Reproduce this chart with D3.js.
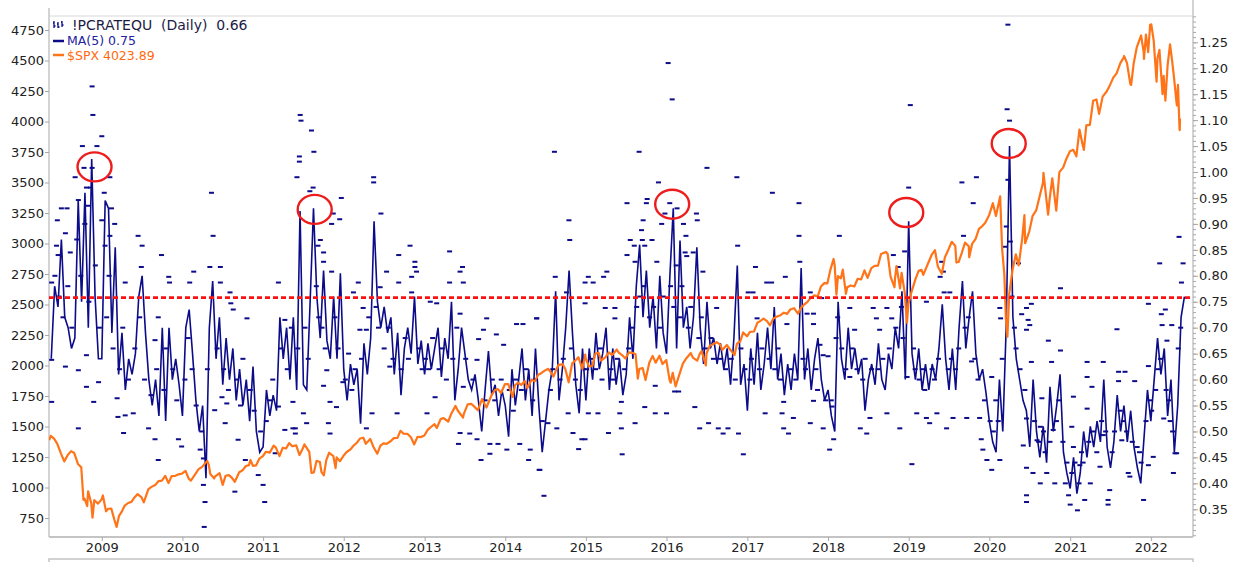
<!DOCTYPE html>
<html lang="en">
<head>
<meta charset="utf-8">
<title>!PCRATEQU (Daily) vs $SPX</title>
<script src="https://d3js.org/d3.v7.min.js"></script>
<style>
  body { margin: 0; background: #fff; }
  svg text { font-family: "DejaVu Sans", Verdana, sans-serif; }
</style>
</head>
<body>
<svg id="chart" width="1236" height="562"></svg>
<script>
// ---- data ----
// equity put/call ratio, 5-day moving average, sampled twice a month from mid-May 2008
var ma5Start = 2008 + 9 / 24;
var ma5Step = 1 / 24;
var ma5 = [
  0.64, 0.78, 0.74, 0.87, 0.72, 0.70, 0.66, 0.68, 0.945, 0.75, 0.96, 0.70, 1.025, 0.76, 0.64,
  0.64, 0.945, 0.93, 0.69, 0.855, 0.61, 0.69, 0.58, 0.64, 0.61, 0.65, 0.76, 0.80, 0.69, 0.60, 0.55, 0.60, 0.53, 0.70, 0.52, 0.70, 0.60, 0.64, 0.59,
  0.53, 0.70, 0.735, 0.65, 0.56, 0.50, 0.55, 0.41, 0.70, 0.79, 0.64, 0.72, 0.59, 0.68, 0.60, 0.66, 0.56, 0.62, 0.55, 0.60, 0.52, 0.625, 0.50, 0.46,
  0.47, 0.58, 0.53, 0.57, 0.54, 0.72, 0.64, 0.70, 0.60, 0.72, 0.58, 0.925, 0.59, 0.58, 0.75, 0.93, 0.76, 0.68, 0.81, 0.675, 0.64, 0.76, 0.64, 0.805,
  0.62, 0.56, 0.63, 0.59, 0.62, 0.515, 0.67, 0.61, 0.68, 0.905, 0.75, 0.70, 0.74, 0.69, 0.72, 0.61, 0.69, 0.57, 0.66, 0.70, 0.65, 0.76, 0.63, 0.675,
  0.61, 0.67, 0.62, 0.66, 0.70, 0.605, 0.68, 0.64, 0.75, 0.56, 0.62, 0.70, 0.65, 0.60, 0.58, 0.61, 0.56, 0.50, 0.58, 0.655, 0.57, 0.59, 0.53, 0.58,
  0.55, 0.49, 0.62, 0.55, 0.60, 0.66, 0.56, 0.62, 0.53, 0.66, 0.55, 0.46, 0.52, 0.58, 0.62, 0.77, 0.56, 0.62, 0.70, 0.81, 0.69, 0.59, 0.535, 0.66,
  0.56, 0.66, 0.60, 0.69, 0.62, 0.65, 0.70, 0.58, 0.66, 0.59, 0.64, 0.57, 0.61, 0.72, 0.64, 0.78, 0.86, 0.72, 0.81, 0.70, 0.76, 0.66, 0.80, 0.69,
  0.65, 0.80, 0.93, 0.66, 0.868, 0.70, 0.74, 0.66, 0.72, 0.855, 0.70, 0.63, 0.75, 0.66, 0.68, 0.63, 0.67, 0.62, 0.66, 0.59, 0.68, 0.82, 0.59, 0.63,
  0.54, 0.66, 0.59, 0.69, 0.58, 0.63, 0.70, 0.62, 0.74, 0.60, 0.65, 0.57, 0.63, 0.58, 0.65, 0.60, 0.815, 0.60, 0.66, 0.58, 0.64, 0.68, 0.60, 0.56,
  0.58, 0.53, 0.50, 0.75, 0.64, 0.60, 0.70, 0.62, 0.66, 0.61, 0.64, 0.54, 0.60, 0.63, 0.59, 0.67, 0.60, 0.58, 0.65, 0.62, 0.70, 0.66, 0.77, 0.60,
  0.905, 0.65, 0.60, 0.66, 0.58, 0.63, 0.58, 0.63, 0.60, 0.66, 0.745, 0.64, 0.58, 0.66, 0.58, 0.70, 0.79, 0.66, 0.72, 0.77, 0.65, 0.60, 0.62, 0.575,
  0.52, 0.48, 0.46, 0.60, 0.50, 0.70, 1.05, 0.72, 0.64, 0.60, 0.56, 0.54, 0.47, 0.60, 0.50, 0.45, 0.51, 0.44, 0.586, 0.50, 0.55, 0.61, 0.46, 0.42,
  0.39, 0.45, 0.38, 0.42, 0.50, 0.45, 0.51, 0.47, 0.52, 0.48, 0.60, 0.47, 0.43, 0.48, 0.57, 0.50, 0.55, 0.48, 0.54, 0.47, 0.43, 0.40, 0.49, 0.58,
  0.52, 0.60, 0.68, 0.61, 0.66, 0.53, 0.60, 0.46, 0.55, 0.72, 0.76
];

// daily readings that stand out of the MA band: [decimal year, ratio]
var dailyDashes = [
  [2008.89, 1.11], [2008.88, 1.165], [2009.00, 1.069], [2008.76, 1.05], [2008.94, 1.05], [2008.78, 1.008],
  [2008.88, 1.008], [2008.67, 0.99], [2009.10, 0.99], [2008.81, 0.97], [2009.03, 0.96], [2008.71, 0.946],
  [2008.50, 0.93], [2008.57, 0.93], [2008.83, 0.935], [2009.12, 0.93], [2008.45, 0.907], [2009.16, 0.90],
  [2009.00, 0.907], [2008.55, 0.882], [2009.10, 0.877], [2009.45, 0.877], [2010.36, 0.96], [2010.38, 0.877],
  [2008.44, 0.858], [2009.50, 0.858], [2008.46, 0.84], [2009.74, 0.84], [2008.61, 0.845], [2009.04, 0.858],
  [2009.49, 0.817], [2010.34, 0.817], [2010.47, 0.817], [2010.14, 0.808], [2008.38, 0.787], [2009.83, 0.798],
  [2009.84, 0.787], [2010.09, 0.787], [2010.47, 0.787], [2011.19, 0.787], [2009.29, 0.787], [2010.59, 0.768],
  [2010.60, 0.747], [2010.63, 0.735], [2010.80, 0.718], [2009.70, 0.72], [2011.27, 0.715], [2011.35, 0.70],
  [2009.66, 0.676], [2008.38, 0.638], [2008.81, 0.647], [2008.55, 0.625], [2008.71, 0.618], [2008.81, 0.586],
  [2008.96, 0.595], [2008.38, 0.557], [2008.90, 0.557], [2009.19, 0.564], [2009.20, 0.528], [2009.29, 0.531],
  [2009.39, 0.535], [2008.71, 0.506], [2009.27, 0.497], [2009.58, 0.506], [2009.66, 0.485], [2009.95, 0.485],
  [2009.70, 0.445], [2009.99, 0.471], [2010.22, 0.465], [2010.26, 0.448], [2010.26, 0.397], [2010.28, 0.364],
  [2010.27, 0.316], [2010.65, 0.384], [2010.69, 0.484], [2010.78, 0.445], [2010.94, 0.416], [2011.00, 0.397],
  [2011.02, 0.364], [2011.15, 0.458], [2011.27, 0.503], [2011.37, 0.506], [2010.49, 0.566], [2010.53, 0.516],
  [2010.40, 0.541], [2010.55, 0.554], [2011.19, 0.548],
  [2011.46, 1.11], [2011.47, 1.099], [2011.60, 1.08], [2011.63, 1.039], [2011.45, 1.03], [2011.45, 1.02],
  [2011.42, 0.99], [2012.37, 0.99], [2012.37, 0.98], [2011.62, 0.97], [2011.58, 0.963], [2011.97, 0.95],
  [2011.87, 0.92], [2011.95, 0.909], [2011.85, 0.90], [2012.46, 0.92], [2011.71, 0.869], [2011.68, 0.858],
  [2011.75, 0.845], [2012.82, 0.858], [2013.31, 0.847], [2012.68, 0.84], [2011.75, 0.827], [2012.88, 0.827],
  [2012.88, 0.817], [2011.85, 0.808], [2012.53, 0.808], [2012.90, 0.808], [2013.47, 0.817], [2013.44, 0.808],
  [2012.84, 0.798], [2012.18, 0.787], [2012.68, 0.787], [2013.31, 0.787], [2013.48, 0.787], [2012.45, 0.778],
  [2012.12, 0.768], [2012.84, 0.768], [2013.07, 0.75], [2013.15, 0.747], [2012.24, 0.738], [2013.44, 0.727],
  [2013.77, 0.718], [2014.39, 0.718], [2014.14, 0.707], [2014.22, 0.707], [2012.20, 0.696], [2012.28, 0.696],
  [2013.73, 0.696], [2013.89, 0.687], [2013.67, 0.678], [2013.98, 0.667], [2012.57, 0.625], [2013.65, 0.638],
  [2011.75, 0.588], [2011.79, 0.618], [2011.99, 0.595], [2011.83, 0.557], [2011.37, 0.557], [2011.50, 0.535],
  [2011.91, 0.547], [2012.35, 0.535], [2012.66, 0.535], [2013.03, 0.535], [2013.48, 0.586], [2013.13, 0.566],
  [2011.54, 0.516], [2011.81, 0.516], [2012.28, 0.506], [2011.83, 0.496], [2011.40, 0.506], [2011.40, 0.496],
  [2013.44, 0.497], [2013.56, 0.496], [2013.65, 0.485], [2013.42, 0.476], [2013.81, 0.476], [2013.91, 0.476],
  [2014.02, 0.465], [2014.18, 0.476], [2014.31, 0.465], [2013.81, 0.457], [2014.29, 0.445], [2013.70, 0.445],
  [2014.42, 0.426],
  [2016.02, 1.21], [2016.07, 1.14], [2014.61, 1.039], [2015.66, 1.039], [2016.50, 1.008], [2016.87, 0.99],
  [2015.90, 0.98], [2017.31, 0.96], [2015.76, 0.948], [2015.51, 0.94], [2015.75, 0.94], [2016.04, 0.94],
  [2016.13, 0.93], [2015.98, 0.92], [2016.37, 0.92], [2015.71, 0.907], [2016.38, 0.907], [2014.79, 0.907],
  [2016.21, 0.90], [2015.94, 0.90], [2015.69, 0.888], [2016.24, 0.877], [2014.80, 0.869], [2015.55, 0.869],
  [2015.70, 0.869], [2015.82, 0.869], [2015.60, 0.858], [2015.73, 0.858], [2016.88, 0.858], [2015.51, 0.84],
  [2016.23, 0.845], [2016.33, 0.845], [2016.25, 0.838], [2015.61, 0.827], [2015.88, 0.827], [2017.10, 0.817],
  [2015.26, 0.808], [2016.45, 0.808], [2014.62, 0.798], [2015.03, 0.798], [2015.22, 0.798], [2014.99, 0.787],
  [2015.09, 0.787], [2017.24, 0.787], [2017.30, 0.787], [2014.76, 0.768], [2017.01, 0.768], [2017.07, 0.768],
  [2014.99, 0.747], [2015.24, 0.738], [2015.36, 0.738], [2016.62, 0.738], [2015.36, 0.718], [2017.12, 0.718],
  [2014.39, 0.718], [2015.45, 0.456], [2016.95, 0.456], [2014.43, 0.426], [2014.48, 0.376], [2014.91, 0.466],
  [2014.95, 0.485], [2014.99, 0.485], [2014.84, 0.497], [2015.28, 0.497], [2015.44, 0.506], [2015.61, 0.516],
  [2014.64, 0.506], [2014.53, 0.516], [2016.41, 0.506], [2016.52, 0.516], [2016.64, 0.506], [2016.76, 0.506],
  [2016.70, 0.496], [2016.89, 0.496], [2015.03, 0.535], [2015.15, 0.535], [2015.42, 0.535], [2015.86, 0.535],
  [2016.00, 0.535], [2016.35, 0.547], [2017.22, 0.535], [2017.43, 0.535], [2015.73, 0.547], [2016.10, 0.577],
  [2016.15, 0.577], [2015.86, 0.588], [2014.78, 0.535], [2015.44, 0.557],
  [2019.02, 1.129], [2020.22, 1.121], [2020.25, 1.099], [2019.66, 0.98], [2019.84, 0.99], [2019.00, 0.97],
  [2017.64, 0.94], [2019.80, 0.94], [2017.64, 0.877], [2018.14, 0.877], [2019.68, 0.877], [2018.95, 0.847],
  [2017.65, 0.827], [2018.81, 0.84], [2019.41, 0.827], [2018.87, 0.817], [2017.47, 0.798], [2019.39, 0.798],
  [2019.43, 0.808], [2017.78, 0.768], [2019.44, 0.768], [2019.51, 0.768], [2019.22, 0.75], [2017.92, 0.757],
  [2018.27, 0.738], [2018.56, 0.738], [2018.73, 0.738], [2020.13, 0.738], [2020.46, 0.738], [2017.74, 0.727],
  [2017.82, 0.727], [2018.60, 0.718], [2018.79, 0.718], [2020.14, 0.718], [2017.49, 0.707], [2017.82, 0.707],
  [2018.64, 0.696], [2020.46, 0.696], [2018.33, 0.696], [2017.90, 0.667], [2017.94, 0.647], [2018.00, 0.645],
  [2019.78, 0.635], [2018.27, 0.605], [2018.98, 0.605], [2017.82, 0.559], [2017.45, 0.557], [2018.05, 0.548],
  [2017.57, 0.526], [2017.78, 0.516], [2018.52, 0.526], [2018.73, 0.535], [2019.10, 0.535], [2019.22, 0.526],
  [2019.35, 0.535], [2019.55, 0.526], [2019.72, 0.526], [2019.88, 0.526], [2017.45, 0.506], [2017.94, 0.506],
  [2018.40, 0.506], [2018.89, 0.506], [2019.26, 0.516], [2019.47, 0.506], [2017.51, 0.496], [2018.07, 0.485],
  [2018.48, 0.496], [2019.90, 0.485], [2018.02, 0.465], [2019.92, 0.465], [2019.97, 0.445], [2020.13, 0.445],
  [2020.03, 0.426], [2019.04, 0.437], [2020.46, 0.364],
  [2020.23, 1.284], [2020.23, 0.985], [2020.21, 0.895], [2020.26, 0.866], [2020.19, 0.856], [2020.36, 0.824],
  [2022.35, 0.875], [2022.11, 0.824], [2022.40, 0.824], [2022.38, 0.787], [2020.88, 0.776], [2020.52, 0.746],
  [2021.97, 0.746], [2022.18, 0.735], [2022.13, 0.726], [2020.40, 0.726], [2020.48, 0.715], [2020.50, 0.705],
  [2022.14, 0.705], [2022.26, 0.705], [2021.58, 0.697], [2020.73, 0.675], [2022.20, 0.675], [2020.88, 0.656],
  [2020.52, 0.634], [2020.77, 0.634], [2021.21, 0.634], [2021.41, 0.634], [2021.97, 0.626], [2021.60, 0.615],
  [2021.68, 0.615], [2021.21, 0.605], [2021.80, 0.597], [2021.60, 0.597], [2021.27, 0.586], [2020.03, 0.605],
  [2021.04, 0.567], [2020.65, 0.564], [2020.46, 0.525], [2020.63, 0.509], [2021.21, 0.544], [2021.02, 0.509],
  [2021.41, 0.493], [2021.64, 0.483], [2021.83, 0.470], [2022.03, 0.451], [2022.30, 0.458], [2022.28, 0.42],
  [2021.91, 0.368], [2021.47, 0.368], [2021.47, 0.359], [2021.09, 0.348], [2021.18, 0.368], [2021.00, 0.359],
  [2020.98, 0.377], [2020.46, 0.377], [2020.63, 0.40], [2020.81, 0.40], [2020.94, 0.40], [2021.25, 0.40],
  [2021.49, 0.387], [2021.74, 0.413], [2021.72, 0.42], [2020.54, 0.42], [2020.46, 0.43], [2020.71, 0.42],
  [2021.37, 0.432], [2021.12, 0.435], [2021.97, 0.435], [2021.04, 0.470], [2020.42, 0.473], [2020.59, 0.483],
  [2020.79, 0.503], [2022.16, 0.525], [2022.32, 0.458]
];

// daily readings inside the MA band (estimated): [decimal year, ratio]
var bandDashes = [
  [2008.42, 0.80], [2008.47, 0.76], [2008.52, 0.72], [2008.58, 0.78], [2008.63, 0.70], [2008.69, 0.87],
  [2008.74, 0.80], [2008.79, 0.90], [2008.84, 0.75], [2008.86, 0.97], [2008.92, 0.82], [2008.97, 0.70],
  [2009.06, 0.72], [2009.09, 0.80], [2009.14, 0.66], [2009.22, 0.62], [2009.26, 0.70], [2009.33, 0.60],
  [2009.41, 0.66], [2009.47, 0.72], [2009.53, 0.60], [2009.61, 0.57], [2009.68, 0.62], [2009.77, 0.58],
  [2009.80, 0.66], [2009.88, 0.62], [2009.93, 0.56],
  [2010.03, 0.60], [2010.07, 0.68], [2010.12, 0.62], [2010.17, 0.55], [2010.24, 0.50], [2010.31, 0.62],
  [2010.43, 0.66], [2010.51, 0.62], [2010.57, 0.58], [2010.67, 0.60], [2010.72, 0.55], [2010.75, 0.64],
  [2010.84, 0.58], [2010.89, 0.54], [2010.97, 0.50],
  [2011.04, 0.52], [2011.08, 0.56], [2011.12, 0.60], [2011.22, 0.66], [2011.30, 0.62], [2011.43, 0.66],
  [2011.52, 0.70], [2011.56, 0.64], [2011.66, 0.78], [2011.69, 0.72], [2011.73, 0.70], [2011.77, 0.66],
  [2011.89, 0.72], [2011.93, 0.66],
  [2012.02, 0.60], [2012.06, 0.65], [2012.10, 0.58], [2012.14, 0.62], [2012.22, 0.64], [2012.31, 0.72],
  [2012.40, 0.74], [2012.43, 0.70], [2012.50, 0.66], [2012.55, 0.70], [2012.61, 0.64], [2012.71, 0.62],
  [2012.76, 0.68], [2012.80, 0.64], [2012.93, 0.66], [2012.97, 0.62],
  [2013.01, 0.64], [2013.05, 0.62], [2013.10, 0.68], [2013.18, 0.62], [2013.22, 0.66], [2013.27, 0.60],
  [2013.35, 0.64], [2013.40, 0.70], [2013.51, 0.64], [2013.60, 0.60], [2013.75, 0.56], [2013.84, 0.60],
  [2013.87, 0.56], [2013.95, 0.60],
  [2014.05, 0.58], [2014.10, 0.54], [2014.13, 0.60], [2014.20, 0.58], [2014.26, 0.62], [2014.34, 0.56],
  [2014.37, 0.60], [2014.46, 0.52], [2014.56, 0.58], [2014.59, 0.62], [2014.68, 0.60], [2014.72, 0.64],
  [2014.82, 0.66], [2014.87, 0.60], [2014.93, 0.58], [2014.97, 0.62],
  [2015.01, 0.62], [2015.06, 0.64], [2015.12, 0.62], [2015.18, 0.66], [2015.20, 0.60], [2015.31, 0.62],
  [2015.34, 0.60], [2015.39, 0.64], [2015.48, 0.62], [2015.53, 0.66], [2015.58, 0.70], [2015.63, 0.74],
  [2015.67, 0.76], [2015.72, 0.78], [2015.79, 0.72], [2015.84, 0.74], [2015.92, 0.70], [2015.96, 0.76],
  [2016.05, 0.78], [2016.09, 0.74], [2016.12, 0.82], [2016.17, 0.72], [2016.19, 0.78], [2016.27, 0.70],
  [2016.30, 0.74], [2016.40, 0.68], [2016.43, 0.72], [2016.48, 0.66], [2016.55, 0.68], [2016.58, 0.64],
  [2016.67, 0.64], [2016.73, 0.62], [2016.80, 0.64], [2016.85, 0.60], [2016.92, 0.66], [2016.97, 0.62],
  [2017.03, 0.60], [2017.05, 0.64], [2017.15, 0.62], [2017.18, 0.66], [2017.27, 0.64], [2017.34, 0.62],
  [2017.38, 0.66], [2017.41, 0.60], [2017.54, 0.62], [2017.60, 0.60], [2017.69, 0.64], [2017.72, 0.62],
  [2017.85, 0.62], [2017.87, 0.58], [2017.97, 0.56],
  [2018.04, 0.56], [2018.10, 0.68], [2018.12, 0.72], [2018.17, 0.66], [2018.22, 0.62], [2018.30, 0.66],
  [2018.36, 0.62], [2018.43, 0.60], [2018.46, 0.64], [2018.54, 0.62], [2018.62, 0.62], [2018.68, 0.64],
  [2018.76, 0.66], [2018.84, 0.70], [2018.91, 0.74], [2018.93, 0.68],
  [2019.06, 0.66], [2019.08, 0.62], [2019.13, 0.60], [2019.17, 0.62], [2019.20, 0.58], [2019.29, 0.62],
  [2019.32, 0.60], [2019.37, 0.64], [2019.49, 0.62], [2019.53, 0.64], [2019.58, 0.62], [2019.62, 0.66],
  [2019.70, 0.70], [2019.74, 0.72], [2019.82, 0.64], [2019.86, 0.60], [2019.94, 0.56],
  [2020.01, 0.52], [2020.05, 0.50], [2020.08, 0.56], [2020.11, 0.52], [2020.16, 0.64], [2020.28, 0.76],
  [2020.31, 0.70], [2020.33, 0.66], [2020.38, 0.62], [2020.44, 0.58], [2020.56, 0.52], [2020.61, 0.48],
  [2020.67, 0.50], [2020.69, 0.46], [2020.75, 0.48], [2020.83, 0.52], [2020.86, 0.56], [2020.91, 0.48],
  [2020.96, 0.44],
  [2021.02, 0.42], [2021.06, 0.44], [2021.11, 0.40], [2021.14, 0.46], [2021.16, 0.44], [2021.23, 0.48],
  [2021.29, 0.50], [2021.33, 0.46], [2021.39, 0.52], [2021.44, 0.50], [2021.52, 0.46], [2021.55, 0.50],
  [2021.62, 0.54], [2021.66, 0.52], [2021.70, 0.50], [2021.77, 0.48], [2021.86, 0.46], [2021.88, 0.44],
  [2021.94, 0.52], [2021.99, 0.56],
  [2022.01, 0.54], [2022.06, 0.58], [2022.09, 0.62], [2022.12, 0.64], [2022.19, 0.58], [2022.22, 0.56],
  [2022.24, 0.52], [2022.27, 0.50], [2022.34, 0.66], [2022.37, 0.70]
];

// S&P 500 closes (left scale)
var spx = [
  ["2008-05-08",1388],["2008-05-15",1423],["2008-05-30",1400],["2008-06-13",1360],["2008-06-30",1280],["2008-07-15",1214],
  ["2008-07-31",1267],["2008-08-15",1298],["2008-08-29",1283],["2008-09-15",1193],["2008-09-30",1166],["2008-10-10",899],
  ["2008-10-15",908],["2008-10-27",848],["2008-10-31",969],["2008-11-14",873],["2008-11-20",752],["2008-11-28",896],
  ["2008-12-15",868],["2008-12-31",903],
  ["2009-01-06",935],["2009-01-20",805],["2009-01-30",826],["2009-02-13",827],["2009-02-27",735],["2009-03-09",677],
  ["2009-03-20",768],["2009-03-31",798],["2009-04-15",852],["2009-04-30",873],["2009-05-15",882],["2009-05-29",919],
  ["2009-06-12",946],["2009-06-30",919],["2009-07-10",879],["2009-07-31",987],["2009-08-14",1005],["2009-08-31",1021],
  ["2009-09-15",1053],["2009-09-30",1057],["2009-10-15",1096],["2009-10-30",1036],["2009-11-13",1093],["2009-11-30",1096],
  ["2009-12-15",1108],["2009-12-31",1115],
  ["2010-01-15",1136],["2010-01-29",1074],["2010-02-08",1056],["2010-02-26",1104],["2010-03-15",1150],["2010-03-31",1169],
  ["2010-04-23",1217],["2010-04-30",1187],["2010-05-07",1110],["2010-05-25",1074],["2010-05-28",1089],["2010-06-18",1117],
  ["2010-07-02",1022],["2010-07-15",1096],["2010-07-30",1102],["2010-08-13",1079],["2010-08-26",1047],["2010-09-15",1125],
  ["2010-09-30",1141],["2010-10-15",1176],["2010-10-29",1183],["2010-11-05",1225],["2010-11-16",1178],["2010-11-30",1181],
  ["2010-12-15",1236],["2010-12-31",1258],
  ["2011-01-14",1293],["2011-01-31",1286],["2011-02-18",1343],["2011-02-28",1327],["2011-03-16",1257],["2011-03-31",1326],
  ["2011-04-15",1320],["2011-04-29",1364],["2011-05-13",1338],["2011-05-31",1345],["2011-06-15",1266],["2011-06-30",1321],
  ["2011-07-07",1354],["2011-07-29",1292],["2011-08-08",1119],["2011-08-19",1124],["2011-08-31",1219],["2011-09-15",1209],
  ["2011-09-22",1129],["2011-10-03",1099],["2011-10-14",1225],["2011-10-27",1285],["2011-11-15",1257],["2011-11-25",1159],
  ["2011-11-30",1247],["2011-12-15",1216],["2011-12-30",1258],
  ["2012-01-13",1289],["2012-01-31",1312],["2012-02-15",1344],["2012-02-29",1366],["2012-03-15",1402],["2012-03-30",1408],
  ["2012-04-10",1358],["2012-04-30",1398],["2012-05-15",1330],["2012-06-01",1278],["2012-06-15",1343],["2012-06-29",1362],
  ["2012-07-13",1357],["2012-07-31",1379],["2012-08-15",1405],["2012-08-31",1407],["2012-09-14",1465],["2012-09-28",1441],
  ["2012-10-15",1440],["2012-10-31",1412],["2012-11-15",1353],["2012-11-30",1416],["2012-12-14",1413],["2012-12-31",1426],
  ["2013-01-15",1472],["2013-01-31",1498],["2013-02-15",1519],["2013-02-25",1488],["2013-03-15",1561],["2013-03-28",1569],
  ["2013-04-18",1541],["2013-04-30",1598],["2013-05-21",1669],["2013-05-31",1631],["2013-06-24",1573],["2013-06-28",1606],
  ["2013-07-15",1682],["2013-07-31",1686],["2013-08-15",1661],["2013-08-30",1633],["2013-09-18",1725],["2013-09-30",1682],
  ["2013-10-08",1656],["2013-10-31",1757],["2013-11-15",1798],["2013-11-29",1806],["2013-12-13",1775],["2013-12-31",1848],
  ["2014-01-15",1848],["2014-02-03",1742],["2014-02-14",1838],["2014-02-28",1859],["2014-03-14",1841],["2014-03-31",1872],
  ["2014-04-11",1815],["2014-04-30",1884],["2014-05-15",1870],["2014-05-30",1924],["2014-06-13",1937],["2014-06-30",1960],
  ["2014-07-15",1973],["2014-07-31",1931],["2014-08-07",1910],["2014-08-29",2003],["2014-09-18",2011],["2014-09-30",1972],
  ["2014-10-15",1862],["2014-10-31",2018],["2014-11-14",2040],["2014-11-28",2068],["2014-12-16",1972],["2014-12-29",2090],
  ["2014-12-31",2059],
  ["2015-01-15",1992],["2015-01-30",1995],["2015-02-13",2097],["2015-02-27",2105],["2015-03-11",2040],["2015-03-31",2068],
  ["2015-04-15",2107],["2015-04-30",2086],["2015-05-21",2131],["2015-05-29",2107],["2015-06-15",2084],["2015-06-29",2058],
  ["2015-07-15",2108],["2015-07-31",2104],["2015-08-14",2092],["2015-08-24",1893],["2015-08-31",1972],["2015-09-15",1979],
  ["2015-09-28",1881],["2015-10-15",2023],["2015-10-30",2079],["2015-11-13",2023],["2015-11-30",2080],["2015-12-14",2012],
  ["2015-12-31",2044],
  ["2016-01-15",1880],["2016-01-20",1859],["2016-01-29",1940],["2016-02-11",1829],["2016-02-29",1932],["2016-03-15",2015],
  ["2016-03-31",2060],["2016-04-20",2102],["2016-04-29",2065],["2016-05-19",2040],["2016-05-31",2097],["2016-06-08",2119],
  ["2016-06-27",2001],["2016-06-30",2099],["2016-07-15",2162],["2016-07-29",2174],["2016-08-15",2191],["2016-08-31",2171],
  ["2016-09-09",2128],["2016-09-30",2168],["2016-10-14",2133],["2016-11-04",2085],["2016-11-15",2180],["2016-11-30",2199],
  ["2016-12-13",2271],["2016-12-30",2239],
  ["2017-01-13",2275],["2017-01-31",2279],["2017-02-15",2350],["2017-02-28",2364],["2017-03-15",2385],["2017-03-31",2363],
  ["2017-04-13",2329],["2017-04-28",2384],["2017-05-15",2402],["2017-05-31",2412],["2017-06-15",2433],["2017-06-30",2423],
  ["2017-07-14",2459],["2017-07-31",2470],["2017-08-18",2425],["2017-08-31",2472],["2017-09-15",2500],["2017-09-29",2519],
  ["2017-10-13",2553],["2017-10-31",2575],["2017-11-15",2565],["2017-11-30",2648],["2017-12-15",2675],["2017-12-29",2674],
  ["2018-01-12",2786],["2018-01-26",2873],["2018-01-31",2824],["2018-02-08",2581],["2018-02-15",2732],["2018-02-28",2714],
  ["2018-03-09",2786],["2018-03-23",2588],["2018-03-29",2641],["2018-04-13",2656],["2018-04-30",2648],["2018-05-15",2711],
  ["2018-05-31",2705],["2018-06-15",2780],["2018-06-29",2718],["2018-07-16",2798],["2018-07-31",2816],["2018-08-15",2818],
  ["2018-08-29",2914],["2018-09-20",2931],["2018-09-28",2914],["2018-10-11",2728],["2018-10-29",2641],["2018-10-31",2712],
  ["2018-11-07",2814],["2018-11-23",2633],["2018-11-30",2760],["2018-12-14",2600],["2018-12-24",2351],["2018-12-31",2507],
  ["2019-01-15",2610],["2019-01-31",2704],["2019-02-15",2776],["2019-02-28",2784],["2019-03-08",2743],["2019-03-29",2834],
  ["2019-04-15",2906],["2019-04-30",2946],["2019-05-13",2812],["2019-05-31",2752],["2019-06-14",2887],["2019-06-28",2942],
  ["2019-07-15",3014],["2019-07-31",2980],["2019-08-05",2844],["2019-08-15",2848],["2019-08-30",2926],["2019-09-13",3007],
  ["2019-09-30",2977],["2019-10-02",2887],["2019-10-15",2996],["2019-10-31",3038],["2019-11-15",3120],["2019-11-29",3141],
  ["2019-12-13",3169],["2019-12-31",3231],
  ["2020-01-17",3330],["2020-01-31",3226],["2020-02-19",3386],["2020-02-28",2954],["2020-03-09",2747],["2020-03-16",2386],
  ["2020-03-23",2237],["2020-03-31",2585],["2020-04-15",2783],["2020-04-30",2912],["2020-05-13",2820],["2020-05-29",3044],
  ["2020-06-08",3232],["2020-06-11",3002],["2020-06-30",3100],["2020-07-15",3227],["2020-07-31",3271],["2020-08-14",3373],
  ["2020-08-31",3500],["2020-09-02",3580],["2020-09-23",3237],["2020-09-30",3363],["2020-10-12",3535],["2020-10-30",3270],
  ["2020-11-13",3585],["2020-11-30",3622],["2020-12-15",3695],["2020-12-31",3756],
  ["2021-01-15",3768],["2021-01-29",3714],["2021-02-12",3934],["2021-02-26",3811],["2021-03-04",3768],["2021-03-15",3969],
  ["2021-03-31",3973],["2021-04-15",4170],["2021-04-30",4181],["2021-05-12",4063],["2021-05-28",4204],["2021-06-15",4246],
  ["2021-06-30",4298],["2021-07-15",4360],["2021-07-30",4395],["2021-08-16",4479],["2021-08-31",4523],["2021-09-02",4537],
  ["2021-09-15",4480],["2021-09-30",4308],["2021-10-04",4300],["2021-10-15",4471],["2021-10-29",4605],["2021-11-18",4705],
  ["2021-11-30",4567],["2021-12-01",4513],["2021-12-10",4712],["2021-12-20",4568],["2021-12-29",4793],["2021-12-31",4766],
  ["2022-01-03",4797],["2022-01-14",4663],["2022-01-27",4326],["2022-01-31",4516],["2022-02-09",4587],["2022-02-23",4225],
  ["2022-02-28",4374],["2022-03-08",4170],["2022-03-18",4463],["2022-03-29",4632],["2022-04-08",4488],["2022-04-14",4393],
  ["2022-04-21",4272],["2022-04-26",4175],["2022-04-29",4132],["2022-05-04",4300],["2022-05-11",3935],["2022-05-12",3930],
  ["2022-05-13",4024]
];

var spxTicks = d3.range(750, 4751, 250);
var ratioTicks = d3.range(35, 126, 5).map(function(d) { return d / 100; });
var ratioMinor = d3.range(30, 131, 1).map(function(d) { return d / 100; });
var threshold = 0.758;
// peaks circled on the chart: [decimal year, ratio]
var peaks = [[2008.91, 1.01], [2011.64, 0.928], [2016.07, 0.938], [2018.97, 0.922], [2020.24, 1.055]];
var legendItems = [
  { text: "!PCRATEQU  (Daily)  0.66", color: "#1c1c44", size: 14, x: 72 },
  { text: "MA(5) 0.75", color: "#2323a0", size: 12.5, x: 67 },
  { text: "$SPX 4023.89", color: "#ff6a10", size: 12.5, x: 67 }
];

// ---- drawing ----
function yearToDate(y) {
  var yr = Math.floor(y + 1e-9);
  var a = Date.UTC(yr, 0, 1), b = Date.UTC(yr + 1, 0, 1);
  return new Date(a + (y - yr) * (b - a));
}

var plotL = 49, plotR = 1193, plotT = 16, plotB = 537;
var navy = "#0c0c8a", orange = "#ff7418", grey = "#c4c4c4";

var svg = d3.select("#chart");

var x = d3.scaleUtc()
  .domain([yearToDate(2008.347), yearToDate(2022.523)])
  .range([plotL, plotR]);
var ySpx = d3.scaleLinear().domain([594.3, 4864.8]).range([plotB, plotT]);
var yRatio = d3.scaleLinear().domain([0.2966, 1.3007]).range([plotB, plotT]);

svg.append("defs").append("clipPath").attr("id", "plot")
  .append("rect").attr("x", plotL).attr("y", plotT)
  .attr("width", plotR - plotL).attr("height", plotB - plotT);

// frame
svg.append("line").attr("x1", plotL).attr("x2", plotR).attr("y1", plotT).attr("y2", plotT)
  .attr("stroke", "#d8d8d8").attr("stroke-width", 1);
svg.append("line").attr("x1", plotL).attr("x2", plotL).attr("y1", 8).attr("y2", plotB)
  .attr("stroke", grey).attr("stroke-width", 1.5);
svg.append("line").attr("x1", plotR).attr("x2", plotR).attr("y1", 0).attr("y2", plotB)
  .attr("stroke", grey).attr("stroke-width", 1.5);
svg.append("line").attr("x1", plotL).attr("x2", plotR).attr("y1", plotB).attr("y2", plotB)
  .attr("stroke", grey).attr("stroke-width", 2);
// top edge of the next panel
svg.append("path").attr("d", "M" + plotL + ",562V559H" + plotR + "V562")
  .attr("fill", "none").attr("stroke", grey).attr("stroke-width", 1.5);

// axes
var axL = svg.append("g").attr("transform", "translate(" + plotL + ",0)")
  .call(d3.axisLeft(ySpx).tickValues(spxTicks).tickFormat(d3.format("d")).tickSize(4).tickPadding(1));
var axR = svg.append("g").attr("transform", "translate(" + plotR + ",0)")
  .call(d3.axisRight(yRatio).tickValues(ratioTicks).tickFormat(d3.format(".2f")).tickSize(5).tickPadding(1));
var axRm = svg.append("g").attr("transform", "translate(" + plotR + ",0)")
  .call(d3.axisRight(yRatio).tickValues(ratioMinor).tickFormat("").tickSize(3));
var axB = svg.append("g").attr("transform", "translate(0," + plotB + ")")
  .call(d3.axisBottom(x).ticks(d3.utcYear.every(1)).tickFormat(d3.utcFormat("%Y")).tickSize(4).tickPadding(2));

[axL, axR, axRm, axB].forEach(function(g) {
  g.select(".domain").remove();
  g.selectAll(".tick line").attr("stroke", "#a8a8a8");
  g.selectAll("text").attr("font-size", 13).attr("fill", "#222")
    .attr("font-family", "'DejaVu Sans', Verdana, sans-serif");
});

var plot = svg.append("g").attr("clip-path", "url(#plot)");

// daily readings as short dashes
plot.append("g").selectAll("rect").data(dailyDashes.concat(bandDashes)).join("rect")
  .attr("x", function(d) { return x(yearToDate(d[0])) - 2.5; })
  .attr("y", function(d) { return yRatio(d[1]) - 1; })
  .attr("width", 5).attr("height", 2)
  .attr("fill", navy);

// MA(5)
var maLine = d3.line()
  .x(function(d, i) { return x(yearToDate(ma5Start + i * ma5Step)); })
  .y(function(d) { return yRatio(d); });
plot.append("path").datum(ma5).attr("d", maLine)
  .attr("fill", "none").attr("stroke", navy).attr("stroke-width", 1.6)
  .attr("stroke-linejoin", "miter");

// $SPX
var parse = d3.utcParse("%Y-%m-%d");
var spxLine = d3.line()
  .x(function(d) { return x(parse(d[0])); })
  .y(function(d) { return ySpx(d[1]); });
plot.append("path").datum(spx).attr("d", spxLine)
  .attr("fill", "none").attr("stroke", orange).attr("stroke-width", 2.2)
  .attr("stroke-linejoin", "round");

// threshold
plot.append("line")
  .attr("x1", plotL).attr("x2", plotR)
  .attr("y1", yRatio(threshold)).attr("y2", yRatio(threshold))
  .attr("stroke", "#ff1010").attr("stroke-width", 2.6).attr("stroke-dasharray", "5,3");

// circled peaks
plot.append("g").selectAll("ellipse").data(peaks).join("ellipse")
  .attr("cx", function(d) { return x(yearToDate(d[0])); })
  .attr("cy", function(d) { return yRatio(d[1]); })
  .attr("rx", 17).attr("ry", 14.5)
  .attr("fill", "none").attr("stroke", "#ee1c1c").attr("stroke-width", 2.4);

// legend
var lg = svg.append("g");
lg.append("path")
  .attr("d", "M54,21v7M53,23h1M54,26h1.5M58,22v6M57,24h1M58,27h1.5M62,21v6M61,22h1M62,25h1.5")
  .attr("stroke", navy).attr("stroke-width", 1.3).attr("fill", "none");
lg.append("line").attr("x1", 53).attr("x2", 64).attr("y1", 41).attr("y2", 41)
  .attr("stroke", navy).attr("stroke-width", 2.5);
lg.append("line").attr("x1", 53).attr("x2", 64).attr("y1", 55).attr("y2", 55)
  .attr("stroke", orange).attr("stroke-width", 2.5);
lg.selectAll("text").data(legendItems).join("text")
  .attr("x", function(d) { return d.x; })
  .attr("y", function(d, i) { return 30 + i * 15; })
  .attr("font-size", function(d) { return d.size; })
  .style("white-space", "pre")
  .attr("fill", function(d) { return d.color; })
  .text(function(d) { return d.text; });
</script>
</body>
</html>
